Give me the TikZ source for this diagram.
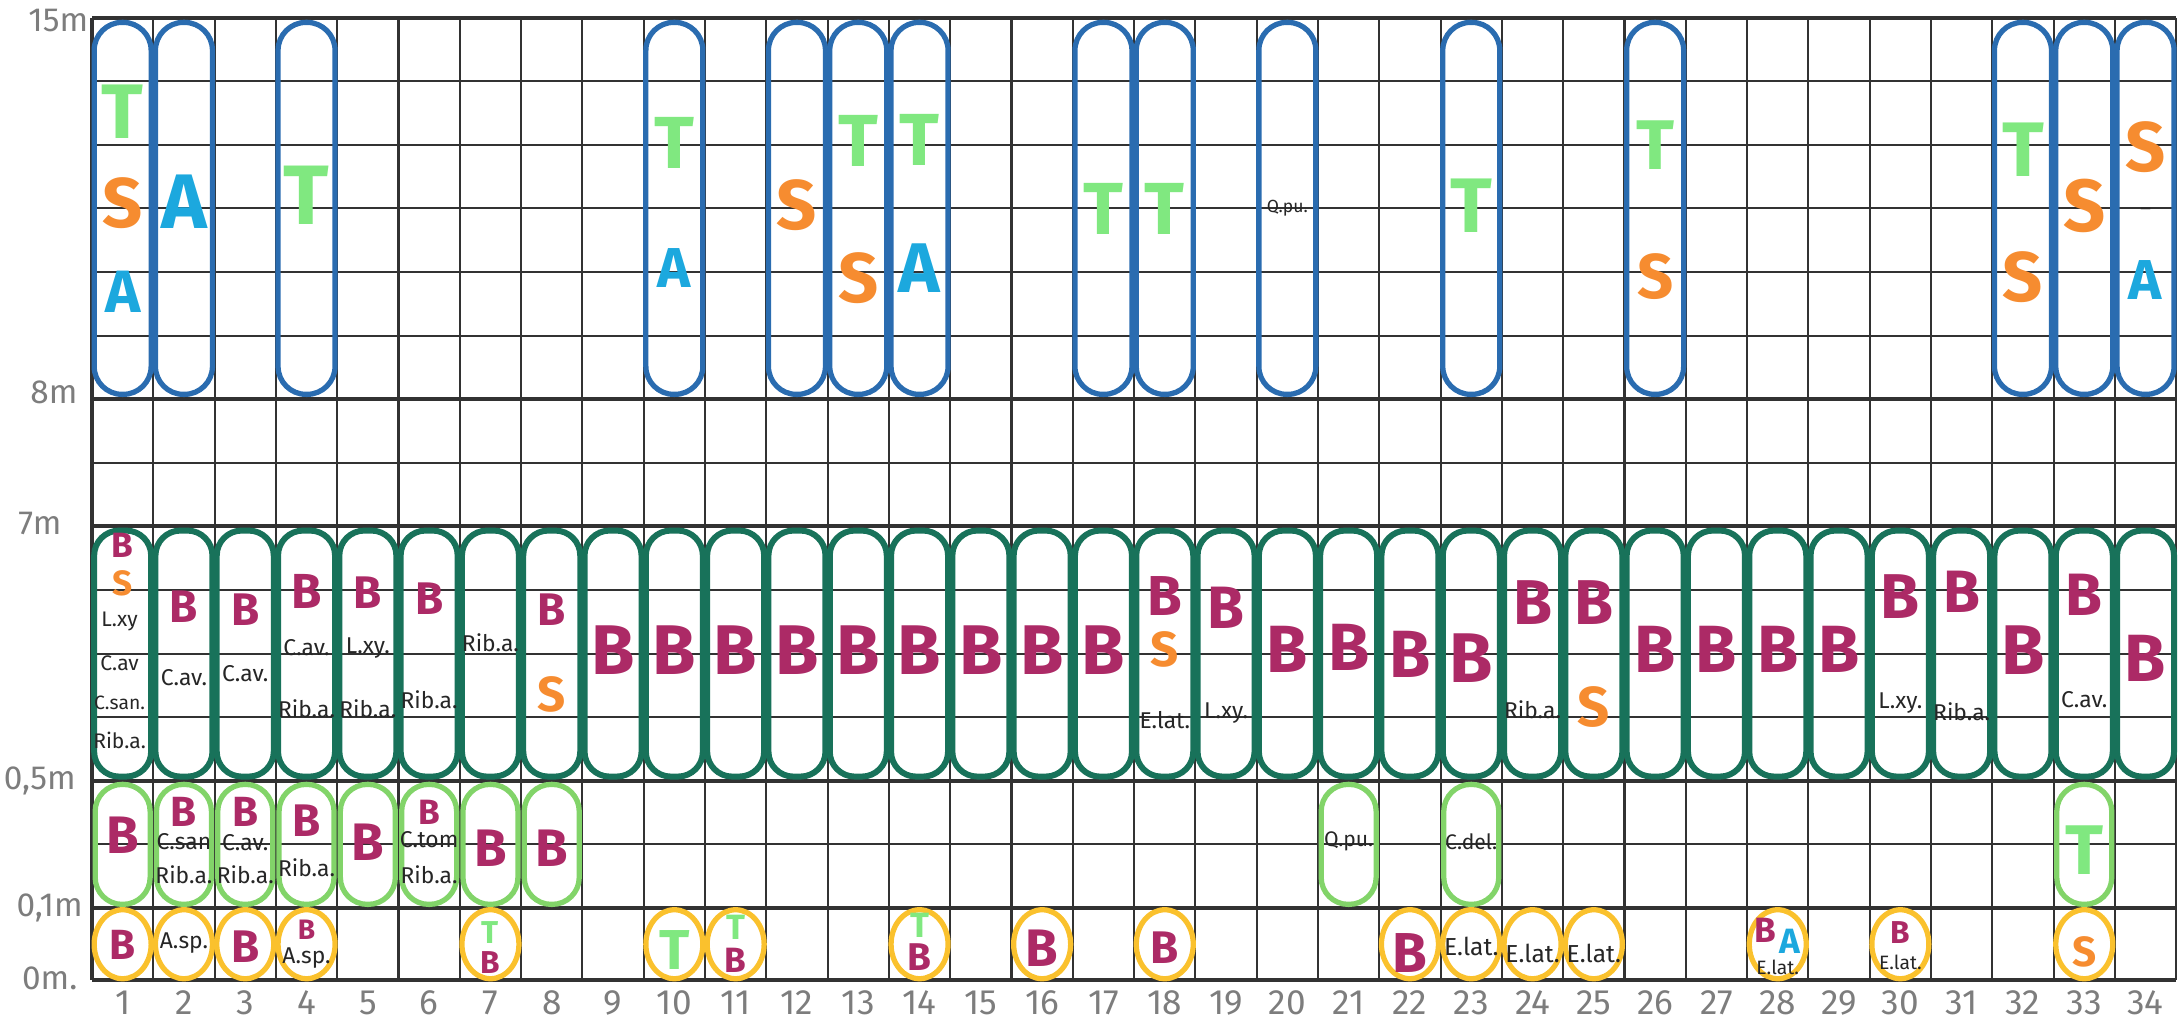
\documentclass[tikz,border=0pt]{standalone}
\usepackage{fontspec}
\setsansfont{Fira Sans}
\usepackage{tikz}
\usetikzlibrary{shapes.geometric}

\definecolor{capblue}{RGB}{42,108,176}
\definecolor{capteal}{RGB}{24,114,90}
\definecolor{caplight}{RGB}{130,212,105}
\definecolor{capyellow}{RGB}{250,193,45}
\definecolor{colB}{RGB}{172,42,102}
\definecolor{colS}{RGB}{246,140,48}
\definecolor{colT}{RGB}{128,232,128}
\definecolor{colA}{RGB}{28,168,222}
\definecolor{axisgray}{RGB}{125,125,125}
\definecolor{gridcol}{RGB}{50,50,50}

\begin{document}
\begin{tikzpicture}[
    x=0.613cm, y=0.636cm,
    gridline/.style={draw=gridcol, line width=0.6pt},
    gridthick/.style={draw=gridcol, line width=1.1pt},
    upcap/.style={rectangle, rounded corners=0.28cm, minimum width=0.57cm, minimum height=3.72cm, draw=capblue, line width=1.5pt, inner sep=0pt},
    midcap/.style={rectangle, rounded corners=0.25cm, minimum width=0.57cm, minimum height=2.46cm, draw=capteal, line width=1.7pt, inner sep=0pt},
    lowcap/.style={rectangle, rounded corners=0.27cm, minimum width=0.55cm, minimum height=1.2cm, draw=caplight, line width=1.5pt, inner sep=0pt},
    herbring/.style={ellipse, minimum width=0.57cm, minimum height=0.69cm, draw=capyellow, line width=1.5pt, inner sep=0pt},
    lettre/.style 2 args={text=#1, font=\sffamily\bfseries\fontsize{#2}{#2}\selectfont, inner sep=0pt},
    note/.style={text=black!85, font=\sffamily\fontsize{#1}{#1}\selectfont, inner sep=0pt},
    axis/.style={text=axisgray, font=\sffamily\fontsize{#1}{#1}\selectfont, inner sep=0pt}
]
\useasboundingbox (-0.92cm,-1.15cm) rectangle (20.89cm,9.08cm);
\def\ybot{-1.132}

\foreach \c in {0,...,34} \draw[gridline] (\c,\ybot) -- (\c,14);
\foreach \r in {1,3,4,5,7,9,10,11,12,13} \draw[gridline] (0,\r) -- (34,\r);
\foreach \r in {\ybot,0,2,6,8,14} \draw[gridthick] (0,\r) -- (34,\r);
\draw[gridthick] (0,\ybot) -- (0,14);

\foreach \c in {1,2,4,10,12,13,14,17,18,20,23,26,32,33,34} \node (up-\c) [upcap] at (\c-0.5,11) {};
\foreach \c in {1,...,34} \node (mid-\c) [midcap] at (\c-0.5,4) {};
\foreach \c in {1,...,8,21,23,33} \node (low-\c) [lowcap] at (\c-0.5,1) {};
\foreach \c in {1,2,3,4,7,10,11,14,16,18,22,23,24,25,28,30,33} \node (herb-\c) [herbring] at (\c-0.5,-0.57) {};

\node (lab15) [axis=9.5] at (-0.55,13.95) {15m};
\node (lab8) [axis=9.5] at (-0.62,8.11) {8m};
\node (lab7) [axis=9.5] at (-0.85,6.05) {7m};
\node (lab05) [axis=9.5] at (-0.85,2.0) {0,5m};
\node (lab01) [axis=9.5] at (-0.69,0) {0,1m};
\node (lab0) [axis=9.5] at (-0.69,-1.1) {0m.};
\foreach \c in {1,...,34} \node (num-\c) [axis=10] at (\c-0.5,-1.49) {\c};

\node (u1T) [lettre={colT}{22}] at (0.5,12.52) {T};
\node (u1S) [lettre={colS}{20}] at (0.5,11.08) {S};
\node (u1A) [lettre={colA}{17}] at (0.5,9.69) {A};
\node (u2A) [lettre={colA}{22}] at (1.5,11.1) {A};
\node (u4T) [lettre={colT}{24}] at (3.5,11.21) {T};
\node (u10T) [lettre={colT}{21}] at (9.5,12.03) {T};
\node (u10A) [lettre={colA}{16}] at (9.5,10.06) {A};
\node (u12S) [lettre={colS}{20}] at (11.5,11.05) {S};
\node (u13T) [lettre={colT}{21}] at (12.5,12.06) {T};
\node (u13S) [lettre={colS}{20}] at (12.5,9.9) {S};
\node (u14T) [lettre={colT}{21}] at (13.5,12.08) {T};
\node (u14A) [lettre={colA}{20}] at (13.5,10.06) {A};
\node (u17T) [lettre={colT}{21}] at (16.5,10.99) {T};
\node (u18T) [lettre={colT}{21}] at (17.5,10.99) {T};
\node (u20Q) [note=5] at (19.5,11.0) {Q.pu.};
\node (u23T) [lettre={colT}{22}] at (22.5,11.04) {T};
\node (u26T) [lettre={colT}{20}] at (25.5,12.0) {T};
\node (u26S) [lettre={colS}{18}] at (25.5,9.92) {S};
\node (u32T) [lettre={colT}{22}] at (31.5,11.92) {T};
\node (u32S) [lettre={colS}{20}] at (31.5,9.92) {S};
\node (u33S) [lettre={colS}{21}] at (32.5,11.04) {S};
\node (u34S) [lettre={colS}{20}] at (33.5,11.97) {S};
\node (u34d) [note=6] at (33.5,10.94) {--};
\node (u34A) [lettre={colA}{16}] at (33.5,9.87) {A};

\node (m1B) [lettre={colB}{10}] at (0.5,5.7) {B};
\node (m1S) [lettre={colS}{10}] at (0.5,5.1) {S};
\node (m1L) [note=6] at (0.45,4.5) {L.xy};
\node (m1C) [note=6] at (0.45,3.85) {C.av};
\node (m1N) [note=5.5] at (0.45,3.22) {C.san.};
\node (m1R) [note=6] at (0.45,2.64) {Rib.a.};
\node (m2B) [lettre={colB}{13}] at (1.5,4.73) {B};
\node (m2C) [note=6.5] at (1.5,3.62) {C.av.};
\node (m3B) [lettre={colB}{13}] at (2.5,4.69) {B};
\node (m3C) [note=6.5] at (2.5,3.69) {C.av.};
\node (m4B) [lettre={colB}{14}] at (3.5,4.97) {B};
\node (m4C) [note=6.5] at (3.5,4.09) {C.av.};
\node (m4R) [note=6.5] at (3.5,3.14) {Rib.a.};
\node (m5B) [lettre={colB}{13}] at (4.5,4.95) {B};
\node (m5L) [note=6.5] at (4.5,4.09) {L.xy.};
\node (m5R) [note=6.5] at (4.5,3.14) {Rib.a.};
\node (m6B) [lettre={colB}{13}] at (5.5,4.87) {B};
\node (m6R) [note=6.5] at (5.5,3.27) {Rib.a.};
\node (m7R) [note=6.5] at (6.5,4.17) {Rib.a.};
\node (m8B) [lettre={colB}{13}] at (7.5,4.69) {B};
\node (m8S) [lettre={colS}{14}] at (7.5,3.35) {S};
\foreach \c in {9,...,17} \node (mB-\c) [lettre={colB}{20}] at (\c-0.5,4.06) {B};
\node (m18B) [lettre={colB}{16}] at (17.5,4.9) {B};
\node (m18S) [lettre={colS}{14}] at (17.5,4.06) {S};
\node (m18E) [note=6.5] at (17.5,2.96) {E.lat.};
\node (m19B) [lettre={colB}{17}] at (18.5,4.72) {B};
\node (m19L) [note=6.5] at (18.5,3.07) {L.xy.};
\node (m20B) [lettre={colB}{19}] at (19.5,4.06) {B};
\node (m21B) [lettre={colB}{19}] at (20.5,4.09) {B};
\node (m22B) [lettre={colB}{19}] at (21.5,3.98) {B};
\node (m23B) [lettre={colB}{20}] at (22.5,3.93) {B};
\node (m24B) [lettre={colB}{18}] at (23.5,4.8) {B};
\node (m24R) [note=6.5] at (23.5,3.11) {Rib.a.};
\node (m25B) [lettre={colB}{18}] at (24.5,4.8) {B};
\node (m25S) [lettre={colS}{16}] at (24.5,3.16) {S};
\foreach \c in {26,...,29} \node (mB-\c) [lettre={colB}{19}] at (\c-0.5,4.06) {B};
\node (m30B) [lettre={colB}{18}] at (29.5,4.89) {B};
\node (m30L) [note=6.5] at (29.5,3.22) {L.xy.};
\node (m31B) [lettre={colB}{17}] at (30.5,4.97) {B};
\node (m31R) [note=6.5] at (30.5,3.08) {Rib.a.};
\node (m32B) [lettre={colB}{20}] at (31.5,4.06) {B};
\node (m33B) [lettre={colB}{17}] at (32.5,4.92) {B};
\node (m33C) [note=6.5] at (32.5,3.27) {C.av.};
\node (m34B) [lettre={colB}{19}] at (33.5,3.93) {B};

\node (l1B) [lettre={colB}{15}] at (0.5,1.15) {B};
\node (l2B) [lettre={colB}{12}] at (1.5,1.51) {B};
\node (l2C) [note=6.5] at (1.5,1.04) {C.san};
\node (l2R) [note=6.5] at (1.5,0.52) {Rib.a.};
\node (l3B) [lettre={colB}{12}] at (2.5,1.51) {B};
\node (l3C) [note=6.5] at (2.5,1.02) {C.av.};
\node (l3R) [note=6.5] at (2.5,0.52) {Rib.a.};
\node (l4B) [lettre={colB}{13}] at (3.5,1.38) {B};
\node (l4R) [note=6.5] at (3.5,0.63) {Rib.a.};
\node (l5B) [lettre={colB}{15}] at (4.5,1.04) {B};
\node (l6B) [lettre={colB}{10}] at (5.5,1.51) {B};
\node (l6C) [note=6.5] at (5.5,1.07) {C.tom};
\node (l6R) [note=6.5] at (5.5,0.52) {Rib.a.};
\node (l7B) [lettre={colB}{15}] at (6.5,0.94) {B};
\node (l8B) [lettre={colB}{15}] at (7.5,0.94) {B};
\node (l21Q) [note=6] at (20.5,1.04) {Q.pu.};
\node (l23C) [note=6] at (22.5,1.04) {C.del.};
\node (l33T) [lettre={colT}{20}] at (32.5,0.91) {T};

\node (h1B) [lettre={colB}{12}] at (0.5,-0.58) {B};
\node (h2A) [note=6.5] at (1.5,-0.55) {A.sp.};
\node (h3B) [lettre={colB}{13}] at (2.5,-0.61) {B};
\node (h4B) [lettre={colB}{8}] at (3.5,-0.35) {B};
\node (h4A) [note=6.5] at (3.5,-0.79) {A.sp.};
\node (h7T) [lettre={colT}{9}] at (6.5,-0.39) {T};
\node (h7B) [lettre={colB}{9}] at (6.5,-0.85) {B};
\node (h10T) [lettre={colT}{16}] at (9.5,-0.66) {T};
\node (h11T) [lettre={colT}{10}] at (10.5,-0.31) {T};
\node (h11B) [lettre={colB}{10}] at (10.5,-0.82) {B};
\node (h14T) [lettre={colT}{10}] at (13.5,-0.27) {T};
\node (h14B) [lettre={colB}{11}] at (13.5,-0.77) {B};
\node (h16B) [lettre={colB}{15}] at (15.5,-0.63) {B};
\node (h18B) [lettre={colB}{13}] at (17.5,-0.63) {B};
\node (h22B) [lettre={colB}{16}] at (21.5,-0.71) {B};
\node (h23E) [note=7] at (22.5,-0.61) {E.lat.};
\node (h24E) [note=7] at (23.5,-0.71) {E.lat.};
\node (h25E) [note=7] at (24.5,-0.71) {E.lat.};
\node (h28B) [lettre={colB}{10}] at (27.3,-0.35) {B};
\node (h28A) [lettre={colA}{10}] at (27.7,-0.53) {A};
\node (h28E) [note=5.5] at (27.5,-0.93) {E.lat.};
\node (h30B) [lettre={colB}{9}] at (29.5,-0.38) {B};
\node (h30E) [note=5.5] at (29.5,-0.85) {E.lat.};
\node (h33S) [lettre={colS}{12}] at (32.5,-0.69) {S};

\end{tikzpicture}
\end{document}
